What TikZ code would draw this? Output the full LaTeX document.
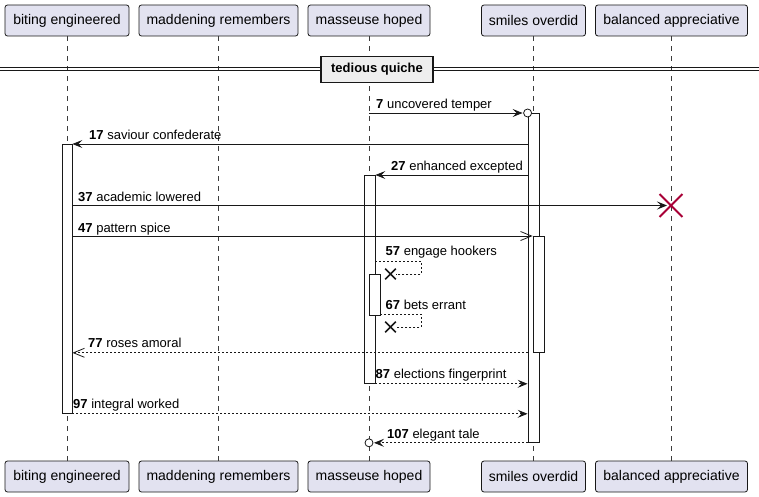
\documentclass[tikz,border=0pt]{standalone}
\usepackage{fontspec}
\setmainfont{Liberation Sans}
\usepackage{tikz}
\usetikzlibrary{arrows.meta, shapes.misc, calc}

\definecolor{partfill}{HTML}{E2E2F0}
\definecolor{umlline}{HTML}{181818}
\definecolor{sepfill}{HTML}{EEEEEE}
\definecolor{killred}{HTML}{A80036}

\begin{document}
\begin{tikzpicture}[x=1pt, y=-1pt,
    part/.style={draw=umlline, fill=partfill, line width=0.8pt, rounded corners=2.5pt,
        minimum height=31pt, inner sep=0pt, font=\fontsize{14}{16}\selectfont},
    lifeline/.style={umlline!85, line width=0.7pt, dash pattern=on 5pt off 5pt},
    act/.style={draw=umlline, fill=white, line width=0.8pt, minimum width=11pt,
        inner sep=0pt, anchor=north},
    msg/.style={umlline, line width=0.8pt, -{Stealth[length=10pt, width=8pt, inset=4pt]}},
    async/.style={umlline, line width=0.8pt, -{Straight Barb[length=11pt, width=9pt]}},
    reply/.style={dash pattern=on 2pt off 2pt},
    selfmsg/.style={umlline, line width=0.8pt, dash pattern=on 2pt off 2pt},
    xmark/.style={cross out, draw=umlline, line width=1.6pt, minimum size=9pt, inner sep=0pt},
    lbl/.style={anchor=base west, inner sep=0pt, font=\fontsize{13}{15}\selectfont}]

    \useasboundingbox (0,0) rectangle (759,497);

    % participants and lifelines
    \foreach \nm/\x/\w/\txt in {b/67/124/biting engineered, d/218.5/159/maddening remembers,
        m/369/122/masseuse hoped, s/533.5/104/smiles overdid, k/671.5/152/balanced appreciative} {
        \node[part, minimum width=\w pt] (\nm Top) at (\x,20.5) {\txt};
        \node[part, minimum width=\w pt] (\nm Bot) at (\x,476.5) {\txt};
        \draw[lifeline] (\nm Top) -- (\nm Bot);
    }

    % separator
    \draw[umlline, line width=0.8pt] (0,67.5) -- (759,67.5) (0,70.5) -- (759,70.5);
    \node[draw=umlline, fill=sepfill, line width=1.8pt, minimum width=112pt, minimum height=26pt,
        inner sep=0pt, font=\bfseries\fontsize{13}{15}\selectfont] (sep) at (377,69.5) {tedious quiche};

    % activations
    \node[act, minimum height=329pt] (sAct) at (533.5,113) {};
    \node[act, minimum width=10pt, minimum height=269pt] (bAct) at (67,144) {};
    \node[act, minimum height=208pt] (mAct) at (369.5,175) {};
    \node[act, minimum height=116pt] (sActB) at (538.5,236) {};
    \node[act, minimum height=41pt] (mActB) at (374.5,274) {};

    \node[cross out, draw=killred, line width=1.8pt, minimum size=21pt, inner sep=0pt] (kill) at (671,205.5) {};
    \node[xmark] (x57) at (390.5,274) {};
    \node[xmark] (x67) at (390.5,327) {};

    % messages
    \draw[msg, shorten >=5pt] (mTop.south |- sAct.north) -- (sAct.north west);
    \draw[umlline, line width=0.8pt, fill=white] (sAct.north west) circle (4);
    \node[lbl] (l7) at (376,109) {\textbf{7} uncovered temper};

    \draw[msg] (sAct.west |- bAct.north) -- (bAct.north east);
    \node[lbl] (l17) at (89,140) {\textbf{17} saviour confederate};

    \draw[msg] (sAct.west |- mAct.north) -- (mAct.north east);
    \node[lbl] (l27) at (391,171) {\textbf{27} enhanced excepted};

    \draw[msg, shorten >=4pt] (bAct.east |- kill) -- (kill.center);
    \node[lbl] (l37) at (78,201) {\textbf{37} academic lowered};

    \draw[async] (bAct.east |- sActB.north) -- (sActB.north west);
    \node[lbl] (l47) at (78,232) {\textbf{47} pattern spice};

    \draw[selfmsg] (mAct.east |- x57) ++(0,-13) -- ++(46,0) |- (x57.east);
    \node[lbl] (l57) at (385.5,255.5) {\textbf{57} engage hookers};

    \draw[selfmsg] (mActB.east |- x67) ++(0,-13) -- ++(41,0) |- (x67.east);
    \node[lbl] (l67) at (385.5,309) {\textbf{67} bets errant};

    \draw[async, reply] (sAct.west |- sActB.south) -- (bAct.east |- sActB.south);
    \node[lbl] (l77) at (88,347.5) {\textbf{77} roses amoral};

    \draw[msg, reply] (mAct.south east) -- (sAct.west |- mAct.south);
    \node[lbl] (l87) at (375.5,378) {\textbf{87} elections fingerprint};

    \draw[msg, reply] (bAct.south east) -- (sAct.west |- bAct.south);
    \node[lbl] (l97) at (73,408.5) {\textbf{97} integral worked};

    \draw[msg, reply, shorten >=5pt] (sAct.south west) -- (mBot.north |- sAct.south);
    \draw[umlline, line width=0.8pt, fill=white] (mBot.north |- sAct.south) circle (4);
    \node[lbl] (l107) at (387,438.5) {\textbf{107} elegant tale};
\end{tikzpicture}
\end{document}
